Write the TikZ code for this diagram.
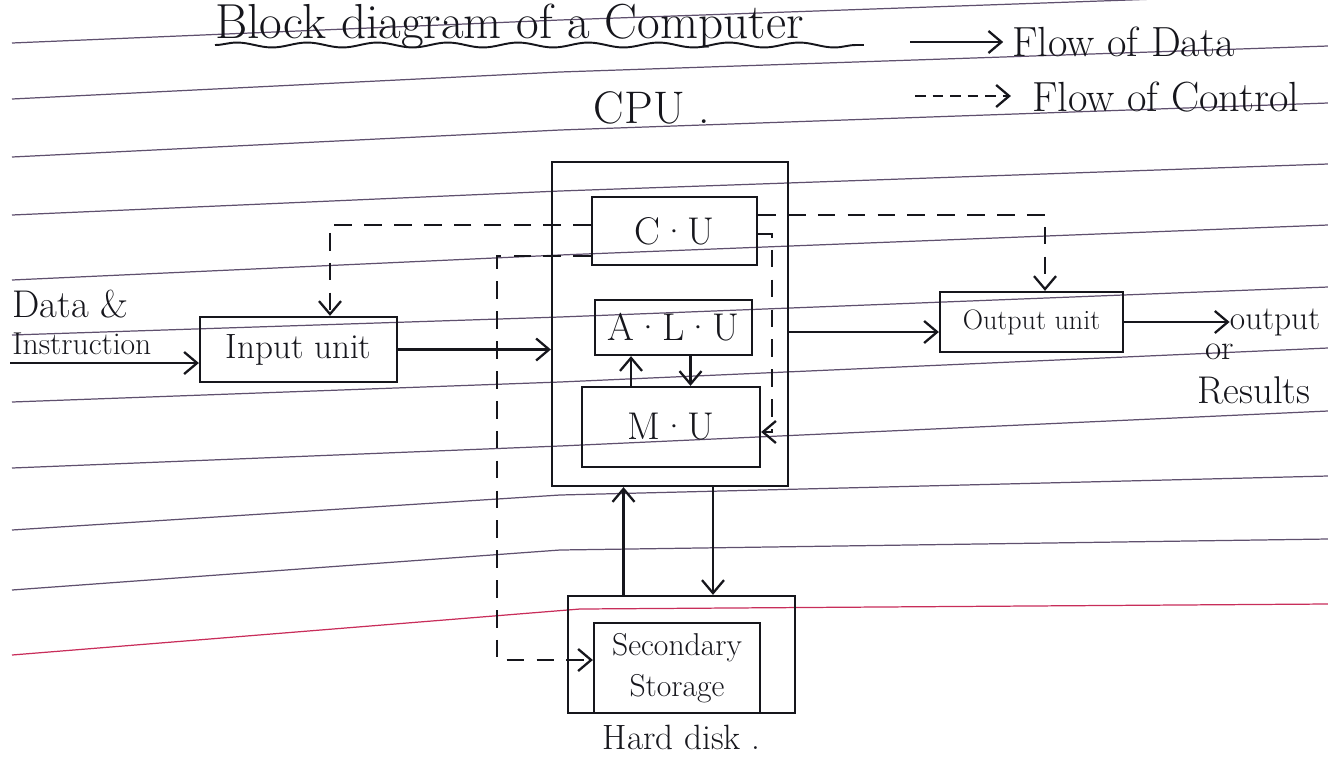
\documentclass[tikz,border=0pt]{standalone}
\usepackage{tikz}
\usetikzlibrary{positioning, arrows.meta, decorations.pathmorphing}

\definecolor{ink}{RGB}{22,22,28}
\definecolor{ruleline}{RGB}{95,80,110}
\definecolor{marginline}{RGB}{200,45,90}

\begin{document}
\begin{tikzpicture}[x=0.02cm, y=-0.02cm, >={Straight Barb[length=2.6mm,width=4.4mm]}]

		\tikzstyle{unit} = [rectangle, draw=ink, line width=1.3pt, inner sep=0pt, text=ink, font=\fontsize{22}{26}\selectfont]
		\tikzstyle{hand} = [text=ink, inner sep=0pt]
		\tikzstyle{data} = [->, draw=ink, line width=1.3pt]
		\tikzstyle{ctrl} = [->, draw=ink, line width=1.3pt, dash pattern=on 10pt off 7pt]
		\tikzstyle{ruled} = [draw=ruleline, line width=0.7pt]

		\useasboundingbox (0,0) rectangle (1328,758);

		% notebook page
		\foreach \yl/\ym/\yr in {43/20/-7, 99/72/46, 157/130/103, 215/191/164, 280/255/225, 335/317/287, 402/382/348, 468/446/411, 530/495/476, 590/550/539}
			\draw[ruled] (12,\yl) -- (560,\ym) -- (1328,\yr);
		\draw[ruled, draw=marginline] (12,655) -- (580,609) -- (1328,604);

		% title and legend
		\node[hand, anchor=base west, font=\fontsize{28}{34}\selectfont] (title) at (215,38) {Block diagram of a Computer};
		\draw[ink, line width=1.1pt, decorate, decoration={snake, amplitude=1.4pt, segment length=40pt}] ([yshift=-0.14cm]title.base west) -- ([xshift=1.2cm, yshift=-0.14cm]title.base east);

		\node[hand, anchor=west, font=\fontsize{24}{28}\selectfont] (legdata) at (1012,42) {Flow of Data};
		\node[hand, anchor=west, font=\fontsize{24}{28}\selectfont] (legctrl) at (1032,97) {Flow of Control};
		\coordinate (legdatatail) at (910,42);
		\coordinate (legctrltail) at (915,96);
		\draw[data] (legdatatail) -- ([xshift=-5pt]legdatatail -| legdata.west);
		\draw[ctrl, dash pattern=on 6pt off 4pt] (legctrltail) -- ([xshift=-12pt]legctrltail -| legctrl.west);

		% define nodes
		\node[unit, minimum width=4.72cm, minimum height=6.48cm] (cpu) at (670,324) {};
		\node[hand, font=\fontsize{26}{30}\selectfont] (cpulabel) at (652,108) {CPU .};
		\node[unit, minimum width=3.3cm, minimum height=1.36cm] (cu) at (674.5,231) {C\textperiodcentered U};
		\node[unit, minimum width=3.14cm, minimum height=1.1cm] (alu) at (673.5,327.5) {A\textperiodcentered L\textperiodcentered U};
		\node[unit, minimum width=3.56cm, minimum height=1.6cm] (mu) at (671,427) {M\textperiodcentered U};

		\node[unit, minimum width=3.94cm, minimum height=1.3cm, font=\fontsize{20}{24}\selectfont] (input) at (298.5,349.5) {Input unit};
		\node[unit, minimum width=3.66cm, minimum height=1.2cm, font=\fontsize{16}{20}\selectfont] (output) at (1031.5,322) {Output unit};

		\node[unit, minimum width=4.54cm, minimum height=2.34cm] (disk) at (681.5,654.5) {};
		\node[unit, minimum width=3.32cm, minimum height=1.8cm, align=center, font=\fontsize{18}{23}\selectfont] (storage) at (677,668) {Secondary\\Storage};
		\node[hand, below=0.22cm of disk, font=\fontsize{20}{24}\selectfont] (harddisk) {Hard disk .};

		\node[hand, anchor=west, font=\fontsize{22}{26}\selectfont] (datatext) at (12,304) {Data \&};
		\node[hand, anchor=west, font=\fontsize{18}{21}\selectfont] (instrtext) at (12,344) {Instruction};
		\coordinate (indata) at (10,363);

		\node[hand, font=\fontsize{19}{22}\selectfont] (result) at (1275,322) {output};
		\node[hand, font=\fontsize{20}{22}\selectfont] (orword) at (1220,352) {or};
		\node[hand, font=\fontsize{22}{26}\selectfont] (results) at (1254,390) {Results};

		% flow of data
		\draw[data] (indata) -- (indata -| input.west);
		\draw[data] (input.east) -- (input.east -| cpu.west);
		\draw[data] ([yshift=-0.2cm]output.west -| cpu.east) -- ([yshift=-0.2cm]output.west);
		\draw[data] (output.east) -- (result.west);
		\draw[data] ([xshift=-0.8cm]mu.north) -- ([xshift=-0.8cm]mu.north |- alu.south);
		\draw[data] ([xshift=0.34cm]alu.south) -- ([xshift=0.34cm]alu.south |- mu.north);
		\draw[data] ([xshift=-1.16cm]disk.north) -- ([xshift=-1.16cm]disk.north |- cpu.south);
		\draw[data] ([xshift=0.86cm]cpu.south) -- ([xshift=0.86cm]cpu.south |- disk.north);

		% flow of control
		\draw[ctrl] ([yshift=0.32cm]cu.east) -| ([xshift=0.27cm]output.north);
		\draw[ctrl] ([yshift=0.12cm]cu.west) -| ([xshift=0.63cm]input.north);
		\draw[ctrl] ([yshift=-0.5cm]cu.west) -- ++(-94,0) |- ([yshift=0.16cm]storage.west);
		\draw[ctrl] ([yshift=-0.06cm]cu.east) -- ++(14,0) |- ([yshift=-0.1cm]mu.east);

\end{tikzpicture}
\end{document}
